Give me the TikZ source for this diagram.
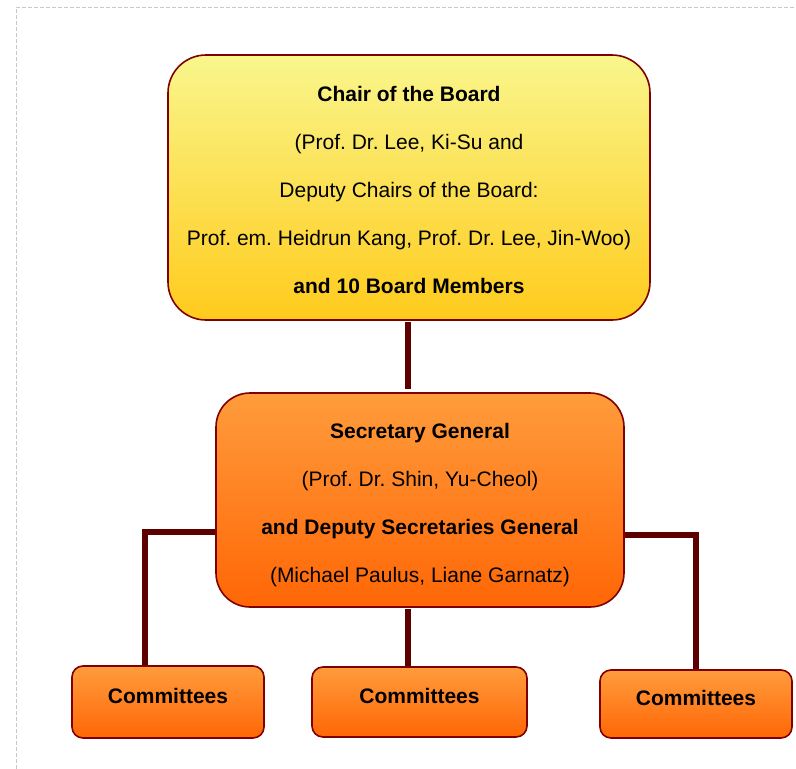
\documentclass[tikz,border=0pt]{standalone}
\usepackage{fontspec}
\setmainfont{Liberation Sans}
\begin{document}
\frenchspacing
\begin{tikzpicture}[x=1pt,y=1pt,
  box/.style={draw=boxborder,line width=1.6pt,rounded corners=#1,inner sep=0pt,align=center},
  yellowbox/.style={box=38pt,top color=ytop,bottom color=ybot},
  orangebox/.style={box=34pt,top color=otop,bottom color=obot},
  combox/.style={box=11pt,top color=otop,bottom color=obot,font=\fontsize{21}{24}\selectfont\bfseries},
  link/.style={draw=linkcol,line width=6pt}]
\definecolor{boxborder}{HTML}{7F0000}
\definecolor{linkcol}{HTML}{5C0000}
\definecolor{ytop}{HTML}{F9F68C}
\definecolor{ybot}{HTML}{FFCB1C}
\definecolor{otop}{HTML}{FF9C3C}
\definecolor{obot}{HTML}{FF6606}
\definecolor{frame}{HTML}{C8C8C8}
\newcommand{\comtext}{\rule[-12pt]{0pt}{12pt}Committees}
\useasboundingbox (0,0) rectangle (796,-769);
\draw[frame,dashed,dash pattern=on 4pt off 2pt,line width=0.8pt] (16,-775) -- (16,-7) -- (800,-7);
\coordinate (lc) at (145,-532);
\coordinate (rc) at (696,-535);
\node[yellowbox,minimum width=482pt,minimum height=265pt,font=\fontsize{21}{48}\selectfont] (chair) at (409,-187.5)
  {\rule{0pt}{19.5pt}\textbf{Chair of the Board}\\(Prof. Dr. Lee, Ki-Su and\\Deputy Chairs of the Board:\\Prof. em. Heidrun Kang, Prof. Dr. Lee, Jin-Woo)\\\textbf{and 10 Board Members}};
\node[orangebox,minimum width=408pt,minimum height=214pt,font=\fontsize{21}{48}\selectfont] (sec) at (420,-500)
  {\rule{0pt}{25.5pt}\textbf{Secretary General}\\(Prof. Dr. Shin, Yu-Cheol)\\\textbf{and Deputy Secretaries General}\\(Michael Paulus, Liane Garnatz)};
\node[combox,minimum width=192pt,minimum height=72pt] (c1) at (168,-702) {\comtext};
\node[combox,minimum width=215pt,minimum height=70pt] (c2) at (419.5,-702) {\comtext};
\node[combox,minimum width=192pt,minimum height=68pt] (c3) at (696,-704) {\comtext};
\draw[link] (chair.south -| 408,0) ++(0,-1) -- ++(0,-67);
\draw[link] (sec.west |- lc) -- (lc) -- (c1.north -| lc);
\draw[link] (sec.east |- rc) -- (rc) -- (c3.north -| rc);
\draw[link] (sec.south -| 408,0) ++(0,-1) -- (c2.north -| 408,0);
\end{tikzpicture}
\end{document}
